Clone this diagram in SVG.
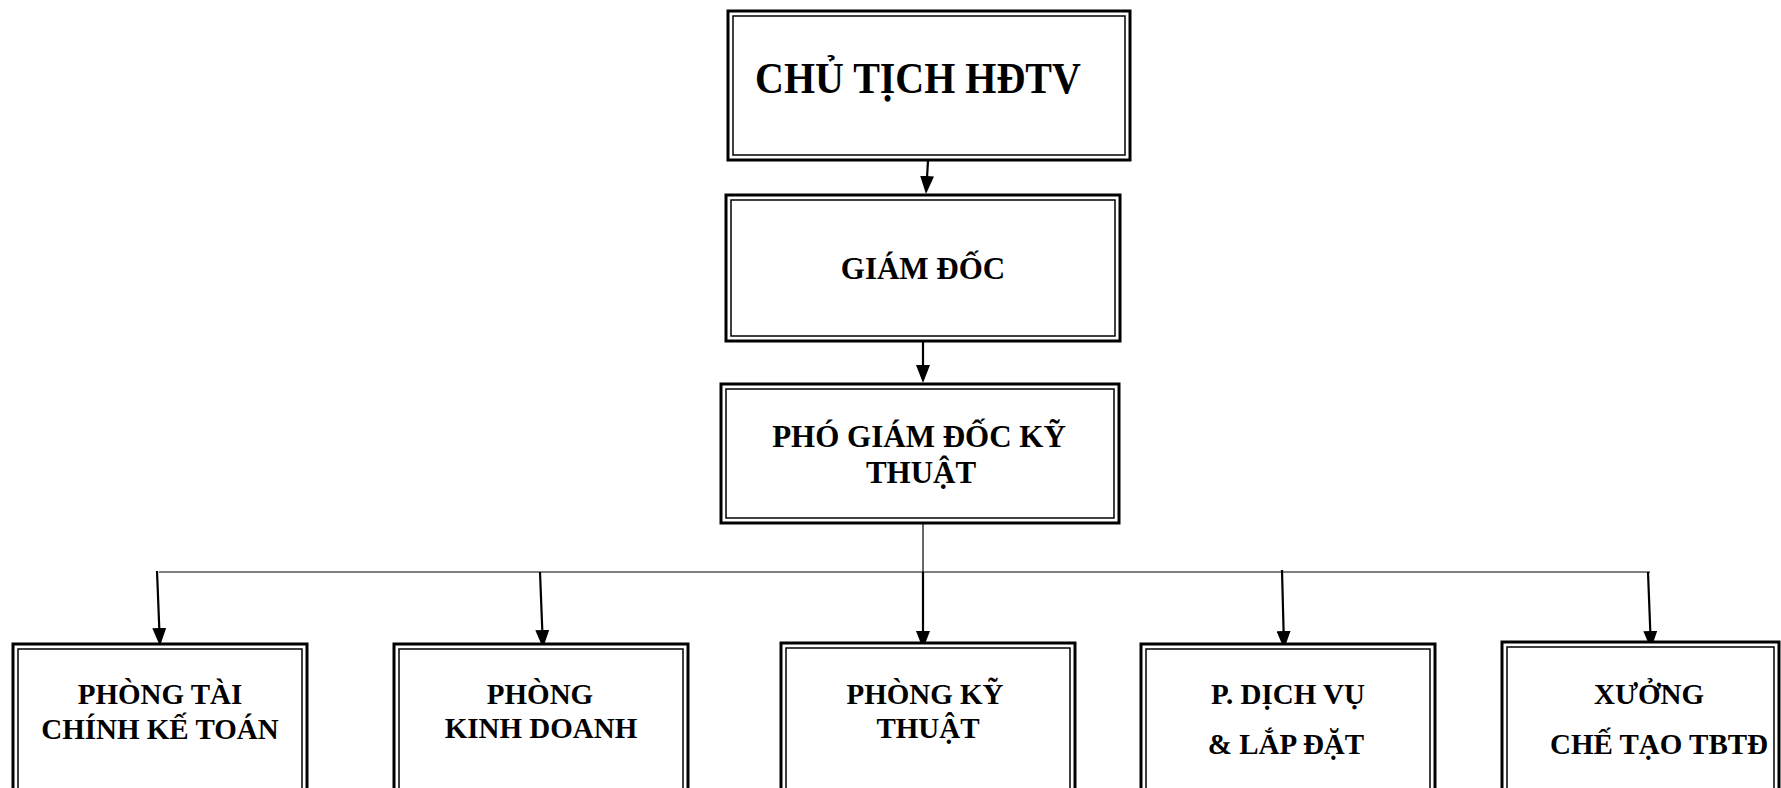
<svg xmlns="http://www.w3.org/2000/svg" width="1781" height="788" viewBox="0 0 1781 788">
<style>
.outer{fill:#fff;stroke:#000;stroke-width:3}
.inner{fill:none;stroke:#000;stroke-width:1.5}
.t{font-family:"Liberation Serif","Times New Roman",serif;font-weight:bold;fill:#000;text-anchor:middle}
.t40{font-size:40px}
.t31{font-size:31px}
.t28{font-size:29px}
.arr{stroke:#000;stroke-width:2.2;fill:none;marker-end:url(#ah)}
.thin{stroke:#000;stroke-width:1.2;fill:none}
</style>
<defs>
<marker id="ah" viewBox="0 0 18 14" refX="8" refY="7" markerWidth="18" markerHeight="14" markerUnits="userSpaceOnUse" orient="auto">
<path d="M0,0 L18,7 L0,14 z" fill="#000"/>
</marker>
</defs>
<rect width="1781" height="788" fill="#fff"/>
<g id="connectors">
<line class="arr" x1="928" y1="161" x2="926.6" y2="184"/>
<line class="arr" x1="923" y1="342" x2="923" y2="373"/>
<line class="thin" x1="923" y1="524" x2="923" y2="572"/>
<line class="thin" x1="159" y1="572" x2="1650" y2="572"/>
<line class="arr" x1="157" y1="571" x2="159.6" y2="636"/>
<line class="arr" x1="540" y1="572" x2="542.6" y2="638"/>
<line class="arr" x1="923" y1="572" x2="923" y2="639"/>
<line class="arr" x1="1282" y1="570" x2="1283.8" y2="639"/>
<line class="arr" x1="1648" y1="572" x2="1650.6" y2="639"/>
</g>
<g id="chu-tich">
<rect class="outer" x="728" y="11" width="402" height="149"/>
<rect class="inner" x="733" y="16" width="392" height="139"/>
<text class="t t40" transform="translate(755,93) scale(1,1.1)" x="0" y="0" style="text-anchor:start">CHỦ TỊCH HĐTV</text>
</g>
<g id="giam-doc">
<rect class="outer" x="726" y="195" width="394" height="146"/>
<rect class="inner" x="731" y="200" width="384" height="136"/>
<text class="t t31" x="923" y="279">GIÁM ĐỐC</text>
</g>
<g id="pho-giam-doc">
<rect class="outer" x="721" y="384" width="398" height="139"/>
<rect class="inner" x="726" y="389" width="388" height="129"/>
<text class="t t31" x="919" y="447">PHÓ GIÁM ĐỐC KỸ</text>
<text class="t t31" x="921" y="483">THUẬT</text>
</g>
<g id="phong-tai-chinh">
<rect class="outer" x="13" y="644" width="294" height="160"/>
<rect class="inner" x="18" y="649" width="284" height="150"/>
<text class="t t28" x="160" y="704">PHÒNG TÀI</text>
<text class="t t28" x="160" y="739">CHÍNH KẾ TOÁN</text>
</g>
<g id="phong-kinh-doanh">
<rect class="outer" x="394" y="644" width="294" height="160"/>
<rect class="inner" x="399" y="649" width="284" height="150"/>
<text class="t t28" x="540" y="704">PHÒNG</text>
<text class="t t28" x="541" y="738">KINH DOANH</text>
</g>
<g id="phong-ky-thuat">
<rect class="outer" x="781" y="643" width="294" height="160"/>
<rect class="inner" x="786" y="648" width="284" height="150"/>
<text class="t t28" x="925" y="704">PHÒNG KỸ</text>
<text class="t t28" x="928" y="738">THUẬT</text>
</g>
<g id="dich-vu">
<rect class="outer" x="1141" y="644" width="294" height="160"/>
<rect class="inner" x="1146" y="649" width="284" height="150"/>
<text class="t t28" x="1288" y="704">P. DỊCH VỤ</text>
<text class="t t28" x="1286" y="754">&amp; LẮP ĐẶT</text>
</g>
<g id="xuong">
<rect class="outer" x="1502" y="642" width="277" height="160"/>
<rect class="inner" x="1507" y="647" width="267" height="150"/>
<text class="t t28" x="1649" y="704">XƯỞNG</text>
<text class="t t28" x="1659" y="754">CHẾ TẠO TBTĐ</text>
</g>
</svg>
